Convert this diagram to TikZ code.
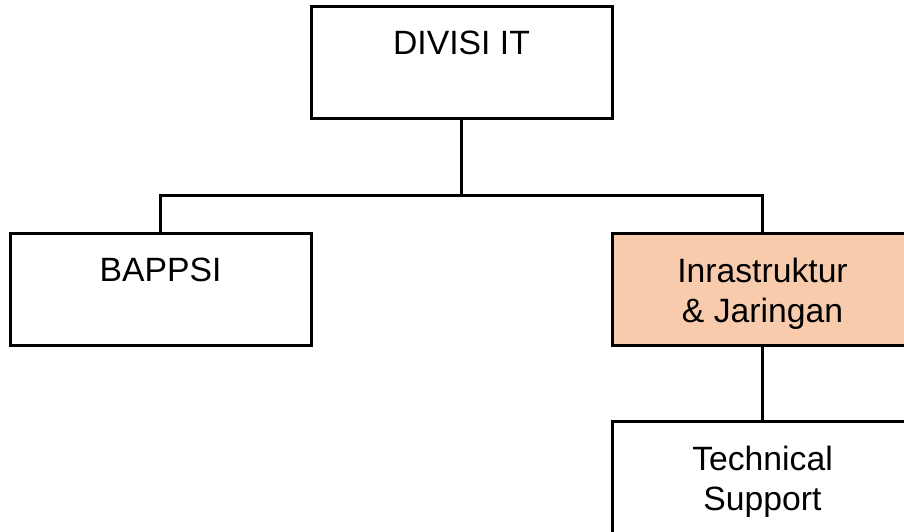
\documentclass[tikz,border=0pt]{standalone}
\usepackage{fontspec}
\setmainfont{Liberation Sans}
\definecolor{peach}{HTML}{F8CBAD}
\begin{document}
\begin{tikzpicture}[x=1pt,y=-1pt,
  unit/.style={draw=black, line width=3pt, minimum width=301pt, minimum height=112pt,
               inner sep=0pt, outer sep=0pt},
  caption/.style={font=\fontsize{33.7}{39.5}\selectfont, align=center, anchor=north,
                  inner sep=0pt, yshift=-25pt},
  link/.style={line width=3pt}]
  \useasboundingbox (0,0) rectangle (904,531);
  \clip (0,0) rectangle (904,531);

  % organisation units
  \node[unit] (div) at (461.5,62) {};
  \node[unit] (bap) at (160.5,289) {};
  \node[unit, fill=peach] (inf) at (762.5,289) {};
  \node[unit] (tec) at (762.5,477) {};

  % unit names, set from the top edge of each box
  \node[caption] (divtext) at (div.north) {DIVISI IT};
  \node[caption] (baptext) at (bap.north) {BAPPSI};
  \node[caption] (inftext) at (inf.north) {Inrastruktur\\\& Jaringan};
  \node[caption] (tectext) at (tec.north) {Technical\\Support};

  % reporting lines
  \coordinate (bus) at (461.5,195);
  \draw[link] (div.south) -- (bus);
  \draw[link] (bap.north) -- (bap.north |- bus) -| (inf.north);
  \draw[link] (inf.south) -- (tec.north);
\end{tikzpicture}
\end{document}
